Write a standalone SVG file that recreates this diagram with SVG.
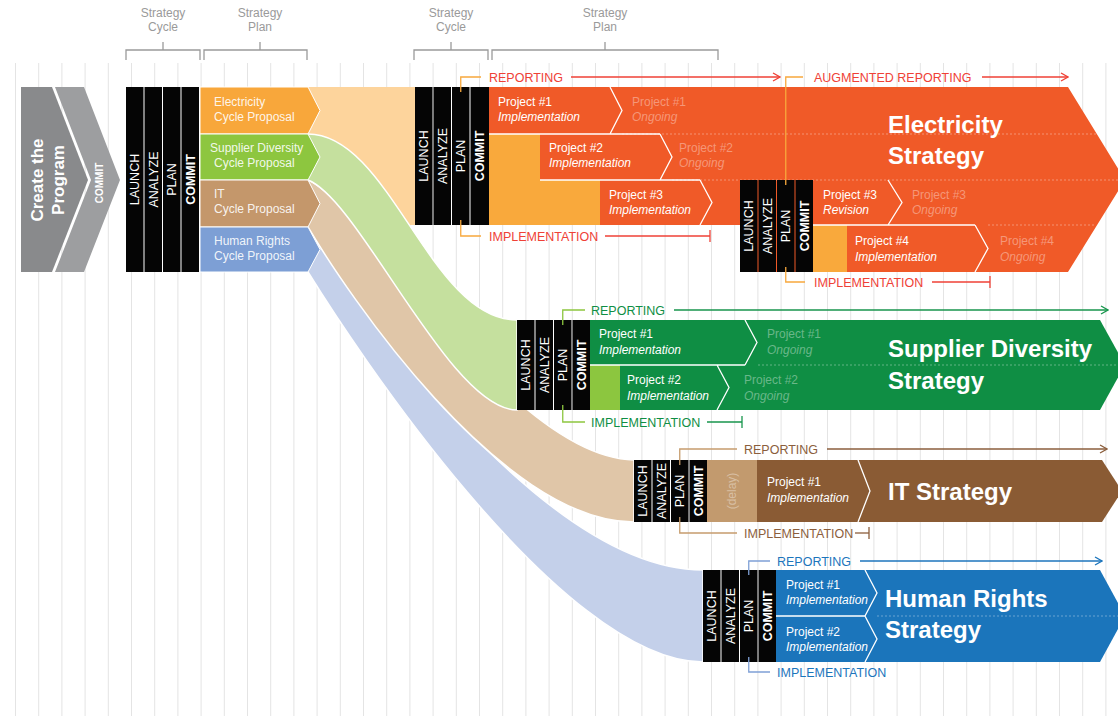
<svg xmlns="http://www.w3.org/2000/svg" width="1118" height="716" viewBox="0 0 1118 716">
<style>
text{font-family:"Liberation Sans",Arial,Helvetica,sans-serif}
.hdr{font-size:12px;fill:#9a9a9a;text-anchor:middle}
.brk{fill:none;stroke:#9a9a9a;stroke-width:1.3}
.blk{fill:#050505}
.bl{font-size:12.5px;fill:#fff;text-anchor:middle}
.bb{font-weight:bold}
.p{font-size:12px;fill:#fff}
.i{font-style:italic}
.f{fill-opacity:.38}
.pp{font-size:12px;fill:#fff;fill-opacity:.9}
.ttl{font-size:24px;font-weight:bold;fill:#fff}
.lab{font-size:12.5px}
.wl{fill:none;stroke:#fff;stroke-width:1.3}
.dl{fill:none;stroke:#fff;stroke-opacity:.35;stroke-width:1;stroke-dasharray:2 2}
.band{stroke:#fff;stroke-width:1.5}
.ln{fill:none;stroke-width:1.3}
</style>
<defs>
<marker id="aR" viewBox="0 0 9 10" refX="8" refY="5" markerWidth="9" markerHeight="10" markerUnits="userSpaceOnUse" orient="auto"><path d="M1,1 L8,5 L1,9" fill="none" stroke="#ef4136" stroke-width="1.3"/></marker>
<marker id="aG" viewBox="0 0 9 10" refX="8" refY="5" markerWidth="9" markerHeight="10" markerUnits="userSpaceOnUse" orient="auto"><path d="M1,1 L8,5 L1,9" fill="none" stroke="#17954c" stroke-width="1.3"/></marker>
<marker id="aT" viewBox="0 0 9 10" refX="8" refY="5" markerWidth="9" markerHeight="10" markerUnits="userSpaceOnUse" orient="auto"><path d="M1,1 L8,5 L1,9" fill="none" stroke="#8b5e3c" stroke-width="1.3"/></marker>
<marker id="aB" viewBox="0 0 9 10" refX="8" refY="5" markerWidth="9" markerHeight="10" markerUnits="userSpaceOnUse" orient="auto"><path d="M1,1 L8,5 L1,9" fill="none" stroke="#1c75bc" stroke-width="1.3"/></marker>
<marker id="bR" viewBox="0 0 2 12" refX="1" refY="6" markerWidth="2" markerHeight="12" markerUnits="userSpaceOnUse" orient="auto"><path d="M1,0 V12" stroke="#ef4136" stroke-width="1.3"/></marker>
<marker id="bG" viewBox="0 0 2 12" refX="1" refY="6" markerWidth="2" markerHeight="12" markerUnits="userSpaceOnUse" orient="auto"><path d="M1,0 V12" stroke="#17954c" stroke-width="1.3"/></marker>
<marker id="bT" viewBox="0 0 2 12" refX="1" refY="6" markerWidth="2" markerHeight="12" markerUnits="userSpaceOnUse" orient="auto"><path d="M1,0 V12" stroke="#8b5e3c" stroke-width="1.3"/></marker>
</defs>
<rect width="1118" height="716" fill="#fff"/>
<g id="grid"><path fill="none" stroke="#e4e4e4" stroke-width="1" d="M15.5,63V716M38.7,63V716M61.9,63V716M85.1,63V716M108.3,63V716M131.5,63V716M154.7,63V716M177.9,63V716M201.1,63V716M224.3,63V716M247.5,63V716M270.7,63V716M293.9,63V716M317.1,63V716M340.3,63V716M363.5,63V716M386.7,63V716M409.9,63V716M433.1,63V716M456.3,63V716M479.5,63V716M502.7,63V716M525.9,63V716M549.1,63V716M572.3,63V716M595.5,63V716M618.7,63V716M641.9,63V716M665.1,63V716M688.3,63V716M711.5,63V716M734.7,63V716M757.9,63V716M781.1,63V716M804.3,63V716M827.5,63V716M850.7,63V716M873.9,63V716M897.1,63V716M920.3,63V716M943.5,63V716M966.7,63V716M989.9,63V716M1013.1,63V716M1036.3,63V716M1059.5,63V716M1082.7,63V716M1105.9,63V716"/></g>
<g id="headers">
<text class="hdr" x="163" y="17">Strategy</text><text class="hdr" x="163" y="31">Cycle</text>
<text class="hdr" x="260" y="17">Strategy</text><text class="hdr" x="260" y="31">Plan</text>
<text class="hdr" x="451" y="17">Strategy</text><text class="hdr" x="451" y="31">Cycle</text>
<text class="hdr" x="605" y="17">Strategy</text><text class="hdr" x="605" y="31">Plan</text>
<path class="brk" d="M126,60V50H200V60M163,50V42M204,60V50H307V60M260,50V42M414,60V50H488V60M451,50V42M492,60V50H718V60M605,50V42"/>
</g>
<g id="connectors">
<path d="M300,87 H415 V225 H300 Z" fill="#fdd49c"/>
<path class="band" d="M300,227 H308 C350,290 540,570 703,570 V662 C560,662 350,340 308,272 H300 Z" fill="#c4d0ea"/>
<path class="band" d="M300,180 H308 C360,200 510,458 634,460 V522 C500,522 345,290 308,227 H300 Z" fill="#e0c6a8"/>
<path class="band" d="M300,134 H308 C390,134 430,320 517,320 V410 C450,410 360,200 308,180 H300 Z" fill="#c5e09e"/>
</g>
<g id="create-program">
<path d="M21,87 H52 L88,180 L52,272 H21 Z" fill="#898a8c"/>
<path d="M55,87 H84 L120,180 L84,272 H55 L91,180 Z" fill="#9d9ea0"/>
<text transform="translate(43,180) rotate(-90)" text-anchor="middle" font-size="17" font-weight="bold" fill="#fff">Create the</text>
<text transform="translate(63.5,180) rotate(-90)" text-anchor="middle" font-size="17" font-weight="bold" fill="#fff">Program</text>
<text transform="translate(103,183) rotate(-90)" text-anchor="middle" font-size="10" font-weight="bold" fill="#fff">COMMIT</text>
</g>
<g id="cycle-1">
<rect class="blk" x="126" y="87" width="17.5" height="185"/><rect class="blk" x="144.5" y="87" width="17.5" height="185"/><rect class="blk" x="163" y="87" width="17.5" height="185"/><rect class="blk" x="181.5" y="87" width="17.5" height="185"/>
<text class="bl" transform="translate(134.75,179.5) rotate(-90)" dy="4.4">LAUNCH</text>
<text class="bl" transform="translate(153.25,179.5) rotate(-90)" dy="4.4">ANALYZE</text>
<text class="bl" transform="translate(171.75,179.5) rotate(-90)" dy="4.4">PLAN</text>
<text class="bl bb" transform="translate(190.25,179.5) rotate(-90)" dy="4.4">COMMIT</text>
</g>
<g id="proposal-electricity">
<path d="M200,87 H308 L320,110.5 L308,134 H200 Z" fill="#f8a73b" stroke="#fff" stroke-width="1"/>
<text class="pp" x="214" y="106">Electricity</text><text class="pp" x="214" y="121">Cycle Proposal</text>
</g>
<g id="proposal-supplier">
<path d="M200,134 H308 L320,157 L308,180 H200 Z" fill="#8dc63f" stroke="#fff" stroke-width="1"/>
<text class="pp" x="210" y="152">Supplier Diversity</text><text class="pp" x="214" y="167">Cycle Proposal</text>
</g>
<g id="proposal-it">
<path d="M200,180 H308 L320,203.5 L308,227 H200 Z" fill="#c4976b" stroke="#fff" stroke-width="1"/>
<text class="pp" x="214" y="198">IT</text><text class="pp" x="214" y="213">Cycle Proposal</text>
</g>
<g id="proposal-hr">
<path d="M200,227 H308 L320,249.5 L308,272 H200 Z" fill="#7d9fd5" stroke="#fff" stroke-width="1"/>
<text class="pp" x="214" y="245">Human Rights</text><text class="pp" x="214" y="260">Cycle Proposal</text>
</g>
<g id="electricity-strategy">
<path d="M489,87 H1068 L1125,180 L1068,272 H740 V225 H489 Z" fill="#f05a28"/>
<path d="M489,134 H540 V180 H600 V225 H489 Z" fill="#f9a93c"/>
<rect x="813" y="225" width="34" height="47" fill="#f9a93c"/>
<path class="wl" d="M489,134 H660 M610,87 L622,110.5 L610,134 M540,180 H700 M660,134 L672,157 L660,180 M700,180 L712,202.5 L700,225 M888,180 L902,202.5 L888,225 M813,225 H975 M975,225 L988,248.5 L975,272"/>
<path class="dl" d="M622,134 H1096 M672,180 H1124 M988,225 H1096"/>
<text class="p" x="498" y="106">Project #1</text><text class="p i" x="498" y="121">Implementation</text>
<text class="p f" x="632" y="106">Project #1</text><text class="p i f" x="632" y="121">Ongoing</text>
<text class="p" x="549" y="152">Project #2</text><text class="p i" x="549" y="167">Implementation</text>
<text class="p f" x="679" y="152">Project #2</text><text class="p i f" x="679" y="167">Ongoing</text>
<text class="p" x="609" y="199">Project #3</text><text class="p i" x="609" y="214">Implementation</text>
<text class="p" x="823" y="199">Project #3</text><text class="p i" x="823" y="214">Revision</text>
<text class="p f" x="912" y="199">Project #3</text><text class="p i f" x="912" y="214">Ongoing</text>
<text class="p" x="855" y="245">Project #4</text><text class="p i" x="855" y="261">Implementation</text>
<text class="p f" x="1000" y="245">Project #4</text><text class="p i f" x="1000" y="261">Ongoing</text>
<text class="ttl" x="888" y="133">Electricity</text><text class="ttl" x="888" y="164">Strategy</text>
</g>
<g id="cycle-electricity">
<rect class="blk" x="415" y="87" width="17.5" height="138"/><rect class="blk" x="433.5" y="87" width="17.5" height="138"/><rect class="blk" x="452" y="87" width="17.5" height="138"/><rect class="blk" x="470.5" y="87" width="18.5" height="138"/>
<text class="bl" transform="translate(423.75,156) rotate(-90)" dy="4.4">LAUNCH</text>
<text class="bl" transform="translate(442.25,156) rotate(-90)" dy="4.4">ANALYZE</text>
<text class="bl" transform="translate(460.75,156) rotate(-90)" dy="4.4">PLAN</text>
<text class="bl bb" transform="translate(479.5,156) rotate(-90)" dy="4.4">COMMIT</text>
</g>
<g id="cycle-electricity-2">
<rect class="blk" x="740" y="180" width="17.5" height="92"/><rect class="blk" x="758.5" y="180" width="17.5" height="92"/><rect class="blk" x="777" y="180" width="17.5" height="92"/><rect class="blk" x="795.5" y="180" width="17.5" height="92"/>
<text class="bl" transform="translate(748.75,226) rotate(-90)" dy="4.4">LAUNCH</text>
<text class="bl" transform="translate(767.25,226) rotate(-90)" dy="4.4">ANALYZE</text>
<text class="bl" transform="translate(785.75,226) rotate(-90)" dy="4.4">PLAN</text>
<text class="bl bb" transform="translate(804.25,226) rotate(-90)" dy="4.4">COMMIT</text>
</g>
<g id="electricity-labels">
<path class="ln" stroke="#f8a83c" d="M460.75,92 V77 H481 M460.75,220 V236 H481 M785.75,185 V77 H803 M785.75,267 V282 H805"/>
<text class="lab" x="489" y="81.5" fill="#ef4136">REPORTING</text>
<path class="ln" stroke="#ef4136" d="M571,77 H780" marker-end="url(#aR)"/>
<text class="lab" x="814" y="81.5" fill="#ef4136">AUGMENTED REPORTING</text>
<path class="ln" stroke="#ef4136" d="M982,77 H1068" marker-end="url(#aR)"/>
<text class="lab" x="489" y="240.5" fill="#ef4136">IMPLEMENTATION</text>
<path class="ln" stroke="#ef4136" d="M605,236 H710" marker-end="url(#bR)"/>
<text class="lab" x="814" y="286.5" fill="#ef4136">IMPLEMENTATION</text>
<path class="ln" stroke="#ef4136" d="M932,282 H990" marker-end="url(#bR)"/>
</g>
<g id="supplier-strategy">
<path d="M590,320 H1100 L1125,365 L1100,410 H590 Z" fill="#0f8e44"/>
<rect x="590" y="365" width="30" height="45" fill="#8cc63f"/>
<path class="wl" d="M590,365 H745 M745,320 L757,342.5 L745,365 M717,365 L729,387.5 L717,410"/>
<path class="dl" d="M758,365 H1124"/>
<text class="p" x="599" y="338">Project #1</text><text class="p i" x="599" y="354">Implementation</text>
<text class="p f" x="767" y="338">Project #1</text><text class="p i f" x="767" y="354">Ongoing</text>
<text class="p" x="627" y="384">Project #2</text><text class="p i" x="627" y="400">Implementation</text>
<text class="p f" x="744" y="384">Project #2</text><text class="p i f" x="744" y="400">Ongoing</text>
<text class="ttl" x="888" y="357">Supplier Diversity</text><text class="ttl" x="888" y="389">Strategy</text>
</g>
<g id="cycle-supplier">
<rect class="blk" x="517" y="320" width="17.5" height="90"/><rect class="blk" x="535.5" y="320" width="17.5" height="90"/><rect class="blk" x="554" y="320" width="17.5" height="90"/><rect class="blk" x="572.5" y="320" width="17.5" height="90"/>
<text class="bl" transform="translate(525.75,365) rotate(-90)" dy="4.4">LAUNCH</text>
<text class="bl" transform="translate(544.25,365) rotate(-90)" dy="4.4">ANALYZE</text>
<text class="bl" transform="translate(562.75,365) rotate(-90)" dy="4.4">PLAN</text>
<text class="bl bb" transform="translate(581.25,365) rotate(-90)" dy="4.4">COMMIT</text>
</g>
<g id="supplier-labels">
<path class="ln" stroke="#8dc63f" d="M562.75,325 V310 H585 M562.75,405 V422 H585"/>
<text class="lab" x="591" y="314.5" fill="#0f8e44">REPORTING</text>
<path class="ln" stroke="#17954c" d="M674,310 H1108" marker-end="url(#aG)"/>
<text class="lab" x="591" y="426.5" fill="#0f8e44">IMPLEMENTATION</text>
<path class="ln" stroke="#17954c" d="M707,422 H742" marker-end="url(#bG)"/>
</g>
<g id="it-strategy">
<rect x="707" y="460" width="50" height="62" fill="#c29a6e"/>
<path d="M757,460 H1102 L1122,491 L1102,522 H757 Z" fill="#8a5b34"/>
<path class="wl" d="M858,460 L870,491 L858,522"/>
<text class="p f" transform="translate(732,491) rotate(-90)" text-anchor="middle" dy="4.2" fill-opacity=".5">(delay)</text>
<text class="p" x="767" y="486">Project #1</text><text class="p i" x="767" y="502">Implementation</text>
<text class="ttl" x="888" y="500">IT Strategy</text>
</g>
<g id="cycle-it">
<rect class="blk" x="634" y="460" width="17.5" height="62"/><rect class="blk" x="652.5" y="460" width="17.5" height="62"/><rect class="blk" x="671" y="460" width="17.5" height="62"/><rect class="blk" x="689.5" y="460" width="17.5" height="62"/>
<text class="bl" transform="translate(642.75,491) rotate(-90)" dy="4.4">LAUNCH</text>
<text class="bl" transform="translate(661.25,491) rotate(-90)" dy="4.4">ANALYZE</text>
<text class="bl" transform="translate(679.75,491) rotate(-90)" dy="4.4">PLAN</text>
<text class="bl bb" transform="translate(698.25,491) rotate(-90)" dy="4.4">COMMIT</text>
</g>
<g id="it-labels">
<path class="ln" stroke="#c69c6d" d="M679.75,465 V449 H737 M679.75,517 V533 H737"/>
<text class="lab" x="744" y="453.5" fill="#8b5e3c">REPORTING</text>
<path class="ln" stroke="#8b5e3c" d="M827,449 H1107" marker-end="url(#aT)"/>
<text class="lab" x="744" y="537.5" fill="#8b5e3c">IMPLEMENTATION</text>
<path class="ln" stroke="#8b5e3c" d="M855,533 H869" marker-end="url(#bT)"/>
</g>
<g id="hr-strategy">
<path d="M776,570 H1100 L1125,616 L1100,662 H776 Z" fill="#1b75bb"/>
<path class="wl" d="M776,616 H865 M865,570 L877,593 L865,616 L877,639 L865,662"/>
<path class="dl" d="M877,616 H1124"/>
<text class="p" x="786" y="589">Project #1</text><text class="p i" x="786" y="604">Implementation</text>
<text class="p" x="786" y="636">Project #2</text><text class="p i" x="786" y="651">Implementation</text>
<text class="ttl" x="885" y="607">Human Rights</text><text class="ttl" x="885" y="638">Strategy</text>
</g>
<g id="cycle-hr">
<rect class="blk" x="703" y="570" width="17.5" height="92"/><rect class="blk" x="721.5" y="570" width="17.5" height="92"/><rect class="blk" x="740" y="570" width="17.5" height="92"/><rect class="blk" x="758.5" y="570" width="17.5" height="92"/>
<text class="bl" transform="translate(711.75,616) rotate(-90)" dy="4.4">LAUNCH</text>
<text class="bl" transform="translate(730.25,616) rotate(-90)" dy="4.4">ANALYZE</text>
<text class="bl" transform="translate(748.75,616) rotate(-90)" dy="4.4">PLAN</text>
<text class="bl bb" transform="translate(767.25,616) rotate(-90)" dy="4.4">COMMIT</text>
</g>
<g id="hr-labels">
<path class="ln" stroke="#7fa0d6" d="M748.75,575 V561 H770 M748.75,657 V672 H770"/>
<text class="lab" x="777" y="565.5" fill="#1c75bc">REPORTING</text>
<path class="ln" stroke="#1c75bc" d="M860,561 H1102" marker-end="url(#aB)"/>
<text class="lab" x="777" y="676.5" fill="#1c75bc">IMPLEMENTATION</text>
</g>
</svg>
